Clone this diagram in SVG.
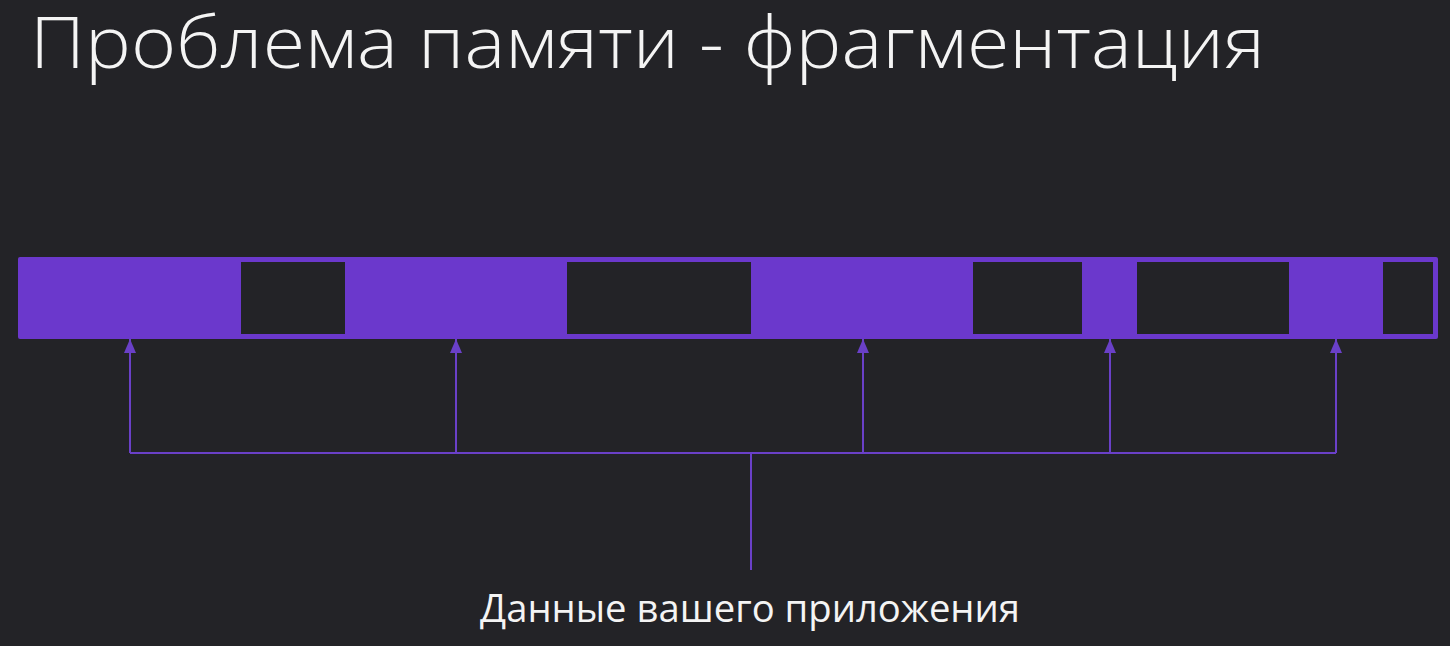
<svg xmlns="http://www.w3.org/2000/svg" width="1450" height="646" viewBox="0 0 1450 646">
<defs>
<style>
.title{font-family:"Open Sans","Noto Sans","DejaVu Sans",sans-serif;font-weight:300;font-size:72px;fill:#f4f4f4}
.label{font-family:"Open Sans","Noto Sans","DejaVu Sans",sans-serif;font-weight:400;font-size:38px;fill:#f4f4f4}
.bar{fill:#6b38cc}
.hole{fill:#232327}
.conn{stroke:#6a40c8;stroke-width:2;fill:none}
</style>
<marker id="arr" viewBox="0 0 14 12" refX="14" refY="6" markerWidth="14" markerHeight="12" markerUnits="userSpaceOnUse" orient="auto">
<path d="M0,0 L14,6 L0,12 Z" fill="#6a40c8"/>
</marker>
</defs>
<rect width="1450" height="646" fill="#232327"/>
<text class="title" x="30" y="68" textLength="1235" lengthAdjust="spacingAndGlyphs">Проблема памяти - фрагментация</text>
<g id="memory">
<rect class="bar" x="18" y="257" width="1420" height="82" rx="2"/>
<rect class="hole" x="241" y="262" width="104" height="72"/>
<rect class="hole" x="567" y="262" width="184" height="72"/>
<rect class="hole" x="973" y="262" width="109" height="72"/>
<rect class="hole" x="1137" y="262" width="152" height="72"/>
<rect class="hole" x="1383" y="262" width="50" height="72"/>
</g>
<g id="connectors">
<path class="conn" d="M130,453 L1336,453"/>
<path class="conn" d="M751,453 L751,570"/>
<path class="conn" d="M130,453 L130,339" marker-end="url(#arr)"/>
<path class="conn" d="M456,453 L456,339" marker-end="url(#arr)"/>
<path class="conn" d="M863,453 L863,339" marker-end="url(#arr)"/>
<path class="conn" d="M1110,453 L1110,339" marker-end="url(#arr)"/>
<path class="conn" d="M1336,453 L1336,339" marker-end="url(#arr)"/>
</g>
<g id="label">
<text class="label" x="750" y="622" text-anchor="middle" textLength="540" lengthAdjust="spacingAndGlyphs">Данные вашего приложения</text>
</g>
</svg>
